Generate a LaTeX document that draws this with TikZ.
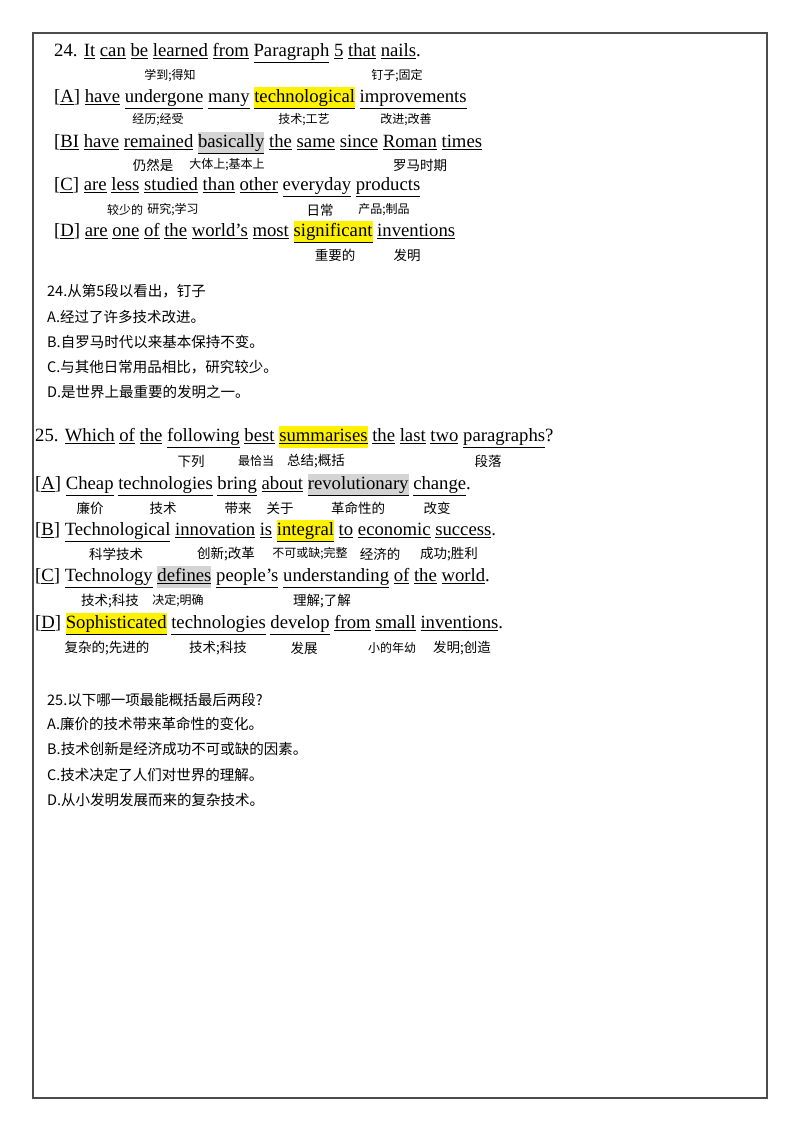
\documentclass[tikz,border=0pt]{standalone}
\usepackage{fontspec}
\setmainfont{Liberation Serif}
\newfontfamily\cjk{Noto Sans CJK SC}
\newcommand{\w}[1]{\underline{#1}}
\newcommand{\ap}{\symbol{39}}
\newcommand{\hy}[1]{{\setlength\fboxsep{0pt}\colorbox{yellow}{\strut\underline{#1}}}}
\newcommand{\hg}[1]{{\setlength\fboxsep{0pt}\colorbox{black!17}{\strut\underline{#1}}}}
\begin{document}
\begin{tikzpicture}[x=1pt,y=-1pt,
  en/.style={anchor=west,inner sep=0pt,font=\fontsize{18.7}{22}\selectfont},
  an/.style={inner sep=0pt,font=\cjk\fontsize{13.5}{16}\selectfont},
  sm/.style={inner sep=0pt,font=\cjk\fontsize{12}{14}\selectfont},
  zh/.style={anchor=west,inner sep=0pt,font=\cjk\fontsize{14.5}{17}\selectfont}]
\useasboundingbox (0,0) rectangle (800,1132);
\draw[line width=1.2pt,black!70] (33,33) rectangle (767,1098);
% Q24
\node[en] (q24) at (54,53) {24. \w{It} \w{can} \w{be} \w{learned} \w{from} \w{Paragraph} \w{5} \w{that} \w{nails}.};
\node[sm] (a1) at (170,76) {学到;得知};
\node[sm] (a2) at (397,76) {钉子;固定};
\node[en] (qa) at (54,98) {[\w{A}] \w{have} \w{undergone} \w{many} \hy{technological} \w{improvements}};
\node[sm] (b1) at (158,120) {经历;经受};
\node[sm] (b2) at (304,120) {技术;工艺};
\node[sm] (b3) at (406,120) {改进;改善};
\node[en] (qb) at (54,143) {[\w{BI} \w{have} \w{remained} \hg{basically} \w{the} \w{same} \w{since} \w{Roman} \w{times}};
\node[an] (c1) at (153,165) {仍然是};
\node[sm] (c2) at (227,165) {大体上;基本上};
\node[an] (c3) at (420,165) {罗马时期};
\node[en] (qc) at (54,187) {[\w{C}] \w{are} \w{less} \w{studied} \w{than} \w{other} \w{everyday} \w{products}};
\node[sm] (d1) at (125,210) {较少的};
\node[sm] (d2) at (173,210) {研究;学习};
\node[an] (d3) at (320,210) {日常};
\node[sm] (d4) at (384,210) {产品;制品};
\node[en] (qd) at (54,232) {[\w{D}] \w{are} \w{one} \w{of} \w{the} \w{world\ap s} \w{most} \hy{significant} \w{inventions}};
\node[an] (e1) at (335,255) {重要的};
\node[an] (e2) at (407,255) {发明};
\node[zh] (z1) at (47,291) {24.从第5段以看出，钉子};
\node[zh] (z2) at (47,317) {A.经过了许多技术改进。};
\node[zh] (z3) at (47,342) {B.自罗马时代以来基本保持不变。};
\node[zh] (z4) at (47,367) {C.与其他日常用品相比，研究较少。};
\node[zh] (z5) at (47,392) {D.是世界上最重要的发明之一。};
% Q25
\node[en] (q25) at (35,437) {25. \w{Which} \w{of} \w{the} \w{following} \w{best} \hy{summarises} \w{the} \w{last} \w{two} \w{paragraphs}?};
\node[an] (f1) at (191,461) {下列};
\node[sm] (f2) at (256,461) {最恰当};
\node[an] (f3) at (316,461) {总结;概括};
\node[an] (f4) at (488,461) {段落};
\node[en] (ra) at (35,485) {[\w{A}] \w{Cheap} \w{technologies} \w{bring} \w{about} \hg{revolutionary} \w{change}.};
\node[an] (g1) at (90,508) {廉价};
\node[an] (g2) at (163,508) {技术};
\node[an] (g3) at (238,508) {带来};
\node[an] (g4) at (280,508) {关于};
\node[an] (g5) at (358,508) {革命性的};
\node[an] (g6) at (437,508) {改变};
\node[en] (rb) at (35,531) {[\w{B}] \w{Technological} \w{innovation} \w{is} \hy{integral} \w{to} \w{economic} \w{success}.};
\node[an] (h1) at (116,554) {科学技术};
\node[an] (h2) at (226,554) {创新;改革};
\node[sm] (h3) at (310,554) {不可或缺;完整};
\node[an] (h4) at (380,554) {经济的};
\node[an] (h5) at (449,554) {成功;胜利};
\node[en] (rc) at (35,577) {[\w{C}] \w{Technology} \hg{defines} \w{people\ap s} \w{understanding} \w{of} \w{the} \w{world}.};
\node[an] (i1) at (110,601) {技术;科技};
\node[sm] (i2) at (178,601) {决定;明确};
\node[an] (i3) at (322,601) {理解;了解};
\node[en] (rd) at (35,624) {[\w{D}] \hy{Sophisticated} \w{technologies} \w{develop} \w{from} \w{small} \w{inventions}.};
\node[an] (j1) at (107,648) {复杂的;先进的};
\node[an] (j2) at (218,648) {技术;科技};
\node[an] (j3) at (304,648) {发展};
\node[sm] (j4) at (392,648) {小的年幼};
\node[an] (j5) at (462,648) {发明;创造};
\node[zh] (y1) at (47,700) {25.以下哪一项最能概括最后两段?};
\node[zh] (y2) at (47,724) {A.廉价的技术带来革命性的变化。};
\node[zh] (y3) at (47,749) {B.技术创新是经济成功不可或缺的因素。};
\node[zh] (y4) at (47,775) {C.技术决定了人们对世界的理解。};
\node[zh] (y5) at (47,800) {D.从小发明发展而来的复杂技术。};
\end{tikzpicture}
\end{document}
